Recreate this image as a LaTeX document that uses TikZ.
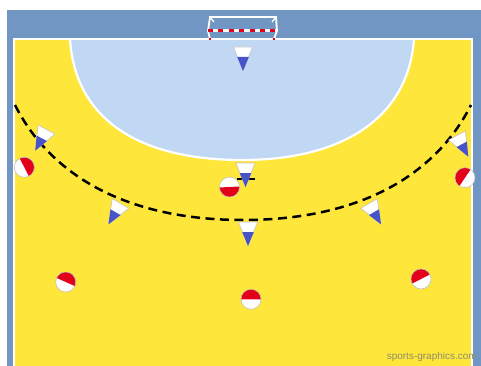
\documentclass[tikz,border=0pt]{standalone}
\usepackage{fontspec}
\setmainfont{Liberation Sans}
\usetikzlibrary{positioning,calc}
\definecolor{courtblue}{HTML}{7196C3}
\definecolor{floorblue}{HTML}{C1D8F4}
\definecolor{flooryellow}{HTML}{FFE63B}
\definecolor{shirtred}{HTML}{E2001A}
\definecolor{capblue}{HTML}{4653C9}
\definecolor{creditgray}{HTML}{8E8C6A}

\begin{document}
\begin{tikzpicture}[
  x=1pt, y=-1pt,
  courtline/.style={draw=white, line width=2.2pt},
  postline/.style={draw=white, line width=1.8pt},
  throwline/.style={draw=black, line width=2.5pt, dash pattern=on 9pt off 5.5pt},
  attacker/.style={circle, draw=gray!55, line width=0.5pt, fill=white, minimum size=20pt, inner sep=0pt,
                   path picture={\coordinate (c) at (path picture bounding box.center);
                     \fill[shirtred] ($(c)+(#1-90:12)$) -- ($(c)+(#1-45:17)$) -- ($(c)+(#1+45:17)$) -- ($(c)+(#1+90:12)$) -- cycle;}},
  defender/.pic={
    \fill[white, draw=gray!45, line width=0.6pt, line join=round] (-9.5,0) -- (9.5,0) -- (0,24) -- cycle;
    \fill[capblue] (-5.8,10) -- (5.8,10) -- (0,24) -- cycle;
  },
  credit/.style={font=\fontsize{10}{12}\selectfont, text=creditgray, inner sep=0pt}
]
\useasboundingbox (0,0) rectangle (481,366);
% court
\fill[courtblue] (7,10) rectangle (481,366);
\fill[flooryellow] (14,39) rectangle (472,366);
\fill[floorblue] (70,39) .. controls (75,120) and (140,160) .. (242,160) .. controls (340,160) and (408,120) .. (414,39) -- cycle;
\draw[courtline] (70,39) .. controls (75,120) and (140,160) .. (242,160) .. controls (340,160) and (408,120) .. (414,39);
\draw[courtline] (14,366) -- (14,39) -- (472,39) -- (472,366);
% goal
\draw[postline] (208,31) -- (210,17) -- (276,17) -- (277,31);
\draw[postline] (208,31) -- (210,39);
\draw[postline] (277,31) -- (274,39);
\draw[white, line width=1.2pt] (210,17) -- (214,22);
\draw[white, line width=1.2pt] (276,17) -- (272,22);
\draw[white, line width=3pt] (208,31) -- (277,31);
\draw[shirtred, line width=3pt, dash pattern=on 5pt off 5.4pt] (208,31) -- (277,31);
\fill[shirtred] (209,38) rectangle (211,40);
\fill[shirtred] (273,38) rectangle (275,40);
% lines
\draw[throwline] (15,105) .. controls (52,178) and (130,220) .. (243,220) .. controls (356,220) and (434,178) .. (471,105);
\draw[black, line width=2.5pt] (237,179) -- (255,179);
% defenders
\pic (keeper) at (243,47) {defender};
\pic (d1) at (245.5,163) {defender};
\pic (d2) at (248,222) {defender};
\pic[rotate=-28] (d3) at (46.5,129.5) {defender};
\pic[rotate=-30] (d4) at (120.5,203.5) {defender};
\pic[rotate=30] (d5) at (369,203.5) {defender};
\pic[rotate=28] (d6) at (457,135.5) {defender};
% attackers
\node[attacker=-27] (a1) at (24.3,167.3) {};
\node[attacker=87] (a2) at (229.5,187) {};
\node[attacker=-66] (a3) at (65.7,282) {};
\node[attacker=-90] (a4) at (251,299.3) {};
\node[attacker=-117] (a5) at (421,279) {};
\node[attacker=-146] (a6) at (465,177.7) {};
\node[credit, anchor=east] (credit) at (477,357) {sports-graphics.com};
\end{tikzpicture}
\end{document}
